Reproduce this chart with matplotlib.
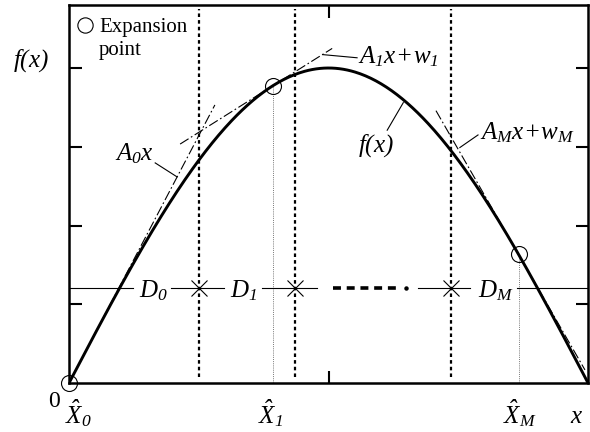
import numpy as np
import matplotlib

matplotlib.use("Agg")

import matplotlib.pyplot as plt  # noqa: E402

plt.rcParams["font.family"] = ["Liberation Serif", "DejaVu Serif"]
plt.rcParams["mathtext.fontset"] = "custom"
plt.rcParams["mathtext.rm"] = "Liberation Serif:italic"
plt.rcParams["mathtext.it"] = "Liberation Serif:italic"

# illustrated function f(x) = amplitude * sin(pi * x) on x in [0, 1]
amplitude = 4.0
y_ticks = [1, 2, 3, 4]
x_ticks = [0.5]

# expansion points X0, X1, XM and region boundaries
expansion_x = [0.0, 0.393, 0.866]
expansion_names = [r"$\hat{X}_{0}$", r"$\hat{X}_{1}$", r"$\hat{X}_{M}$"]
expansion_label_x = [-0.008, 0.364, 0.836]
boundaries = [0.250, 0.435, 0.735]

# visible extent of each tangent line (start, end)
tangent_extent = [(0.0, 0.281), (0.214, 0.507), (0.707, 0.994)]

# D_i bracket line
d_level = 1.207
d_segments = [(0.0, 0.123), (0.197, 0.299), (0.372, 0.478), (0.672, 0.773), (0.863, 1.0)]
d_gap = (0.509, 0.632)
d_gap_dot = 0.649
d_labels = [(r"$D_{0}$", 0.135), (r"$D_{1}$", 0.310), (r"$D_M$", 0.788)]


def f(x):
    return amplitude * np.sin(np.pi * np.asarray(x))


def df(x):
    return amplitude * np.pi * np.cos(np.pi * np.asarray(x))


fig = plt.figure(figsize=(5.9, 4.32), dpi=100, facecolor="white")
ax = fig.add_axes([0.117, 0.1134, 0.8797, 0.875])
ax.set_xlim(0, 1)
ax.set_ylim(0, 4.8)

xs = np.linspace(0, 1, 400)
ax.plot(xs, f(xs), color="black", linewidth=2.1, zorder=4, solid_capstyle="butt")

# tangent lines at the expansion points
for x0, (start, end) in zip(expansion_x, tangent_extent):
    tx = np.array([start, end])
    ax.plot(tx, f(x0) + df(x0) * (tx - x0), color="black", linewidth=0.8,
            linestyle=(0, (9, 2.5, 1.5, 2.5)), zorder=3)

# region boundaries
for bx in boundaries:
    ax.plot([bx, bx], [0.07, 4.75], color="black", linewidth=1.6,
            linestyle=(0, (1.6, 1.4)), zorder=2)

# dotted drop lines from expansion points
for ex in expansion_x[1:]:
    ax.plot([ex, ex], [0, f(ex)], color="#777777", linewidth=0.7,
            linestyle=(0, (1, 1.2)), zorder=2)

ax.plot(expansion_x, f(expansion_x), linestyle="none", marker="o", markersize=11.5,
        markerfacecolor="none", markeredgecolor="black", markeredgewidth=0.8, zorder=6,
        clip_on=False)

# D bracket
for start, end in d_segments:
    ax.plot([start, end], [d_level, d_level], color="black", linewidth=0.8, zorder=3)
ax.plot(d_gap, [d_level, d_level], color="black", linewidth=2.6,
        linestyle=(0, (2.2, 1.6)), zorder=3)
ax.plot([d_gap_dot], [d_level], marker="o", markersize=2.2, color="black", zorder=3)
ax.plot(boundaries, [d_level] * len(boundaries), linestyle="none", marker="x",
        markersize=11, markeredgewidth=0.8, color="black", zorder=5)
for label, lx in d_labels:
    ax.text(lx, 1.093, label, fontsize=18, ha="left", va="baseline")

# annotations with leader lines
labels = [
    (r"$A_{0}x$", (0.089, 2.83), (0.166, 2.795), (0.208, 2.618)),
    (r"$A_{1}x\!+\!w_{1}$", (0.557, 4.06), (0.555, 4.13), (0.489, 4.17)),
    (r"$f(x)$", (0.557, 2.94), (0.613, 3.21), (0.644, 3.56)),
    (r"$A_Mx\!+\!w_M$", (0.792, 3.09), (0.788, 3.15), (0.753, 2.99)),
]
for text, pos, p0, p1 in labels:
    ax.text(pos[0], pos[1], text, fontsize=18, ha="left", va="baseline")
    ax.plot([p0[0], p1[0]], [p0[1], p1[1]], color="black", linewidth=0.8, zorder=3)

# legend-like note
ax.plot([0.031], [4.55], marker="o", markersize=11, markerfacecolor="none",
        markeredgecolor="black", markeredgewidth=0.8)
ax.text(0.058, 4.46, "Expansion", fontsize=15, va="baseline")
ax.text(0.058, 4.17, "point", fontsize=15, va="baseline")

# outside labels
ax.text(-0.108, 4.02, r"$f(x)$", fontsize=18, va="baseline", clip_on=False)
ax.text(-0.041, -0.30, "0", fontsize=17, va="baseline", clip_on=False)
for name, lx in zip(expansion_names, expansion_label_x):
    ax.text(lx, -0.51, name, fontsize=18, ha="left", va="baseline", clip_on=False)
ax.text(0.965, -0.51, r"$x$", fontsize=18, va="baseline", clip_on=False)

ax.set_xticks(x_ticks)
ax.set_yticks(y_ticks)
ax.set_xticklabels([])
ax.set_yticklabels([])
ax.tick_params(direction="in", length=9, width=1.5, top=True, right=True)
for spine in ax.spines.values():
    spine.set_linewidth(1.8)

fig.savefig("out.png", dpi=100)
